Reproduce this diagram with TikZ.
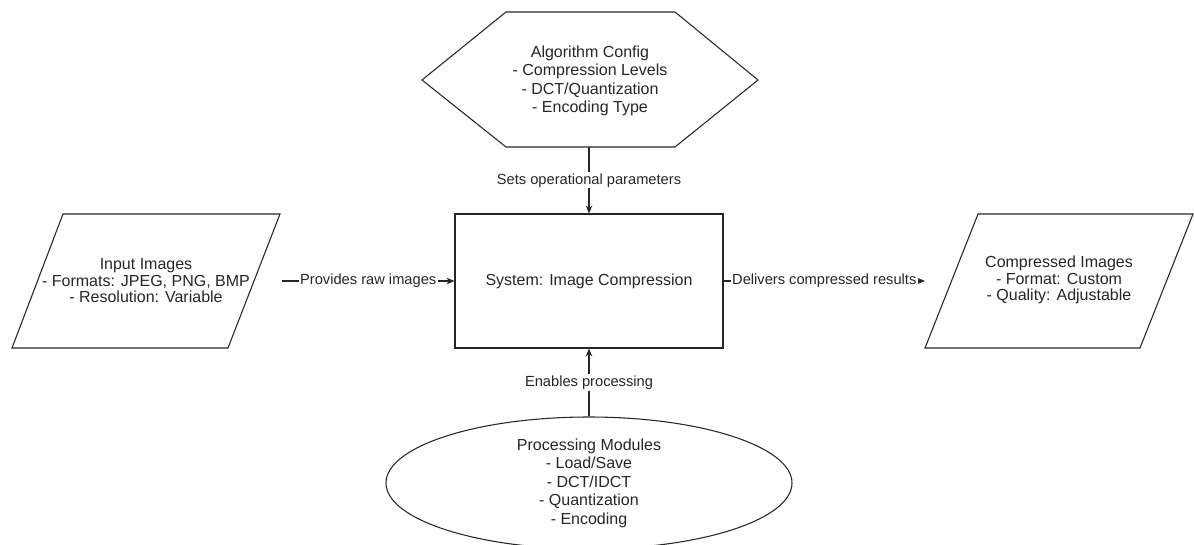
\documentclass[tikz,border=0pt]{standalone}
\usepackage{fontspec}
\setmainfont{Liberation Sans}
\usetikzlibrary{shapes.geometric,arrows.meta}
\begin{document}
\begin{tikzpicture}[x=0.75pt,y=-0.75pt,line width=0.8pt,draw=black!85,
  every node/.style={font=\fontsize{12}{13.9}\selectfont,align=center,inner sep=1pt,text=black!85},
  para/.style={font=\fontsize{12}{12.4}\selectfont},
  lbl/.style={font=\fontsize{11}{13}\selectfont,fill=white,inner sep=1pt},
  conn/.style={-{Stealth[length=6pt,width=5pt]}}]
\useasboundingbox (0,0) rectangle (1194,545);
\coordinate (cfgL) at (422,80);
\coordinate (cfgTL) at (506,12);
\coordinate (cfgTR) at (675,12);
\coordinate (cfgR) at (758,80);
\coordinate (cfgBR) at (675,147);
\coordinate (cfgBL) at (506,147);
\coordinate (cfgB) at (589,147);
\draw (cfgL) -- (cfgTL) -- (cfgTR) -- (cfgR) -- (cfgBR) -- (cfgBL) -- cycle;
\node (cfg) at (590,81) {Algorithm Config\\- Compression Levels\\- DCT/Quantization\\- Encoding Type};
\node[draw,minimum width=201pt,minimum height=100.5pt] (sys) at (589,281) {System: Image Compression};
\draw (63,214) -- (280,214) -- (228,348) -- (12,348) -- cycle;
\node[para] (in) at (146,281) {Input Images\\- Formats: JPEG, PNG, BMP\\- Resolution: Variable};
\coordinate (inR) at (282,281);
\draw (978,214) -- (1193,214) -- (1140,348) -- (925,348) -- cycle;
\node[para] (out) at (1059,280) {Compressed Images\\- Format: Custom\\- Quality: Adjustable};
\coordinate (outL) at (925,281);
\node[draw,ellipse,minimum width=304.5pt,minimum height=99pt,inner sep=0pt] (mod) at (589,483) {Processing Modules\\- Load/Save\\- DCT/IDCT\\- Quantization\\- Encoding};
\draw[conn] (cfgB) -- (sys.north) node[lbl,midway] {Sets operational parameters};
\draw[conn] (inR) -- (sys.west) node[lbl,midway] {Provides raw images};
\draw[conn] (sys.east) -- (outL) node[lbl,midway] {Delivers compressed results};
\draw[conn] (mod.north) -- (sys.south) node[lbl,midway] {Enables processing};
\end{tikzpicture}
\end{document}
